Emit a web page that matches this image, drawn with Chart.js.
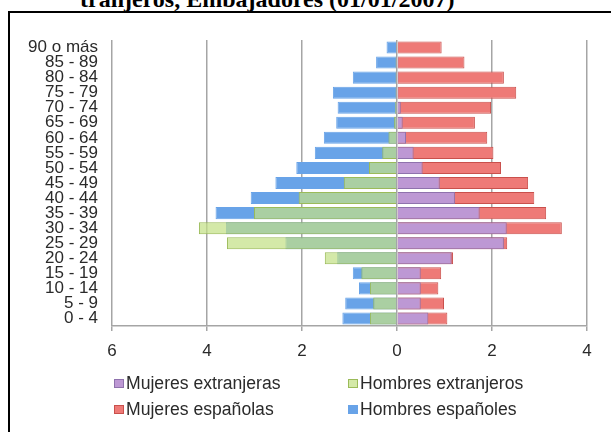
<!DOCTYPE html>
<html>
<head>
<meta charset="utf-8">
<title>Pirámide de población - Embajadores</title>
<style>
    body { margin: 0; width: 611px; height: 432px; overflow: hidden; position: relative; background: #fff;
           font-family: "Liberation Sans", Arial, sans-serif; }
    #titulo { position: absolute; left: 80px; top: -13px; white-space: nowrap; color: #000;
              font: bold 24px/24px "Liberation Serif", "Times New Roman", serif; }
    #marco { position: absolute; left: 8px; top: 11px; width: 700px; height: 500px; border: 2px solid #000; }
    #grafico { position: absolute; left: 0; top: 0; }
    .item { position: absolute; height: 20px; line-height: 20px; font-size: 17.6px; color: #2a2a2a; white-space: nowrap; }
    .caja { display: inline-block; width: 8px; height: 7px; margin-right: 2px; vertical-align: 1px; border: 1px solid; }
</style>
</head>
<body>
<div id="titulo">tranjeros, Embajadores (01/01/2007)</div>
<div id="marco"></div>
<canvas id="grafico" width="611" height="432"></canvas>
<div id="leyenda"></div>

<script src="https://cdn.jsdelivr.net/npm/chart.js"></script>
<script>
    // grupos de edad, de arriba abajo
    const edades = ['90 o más', '85 - 89', '80 - 84', '75 - 79', '70 - 74', '65 - 69', '60 - 64',
        '55 - 59', '50 - 54', '45 - 49', '40 - 44', '35 - 39', '30 - 34', '25 - 29', '20 - 24',
        '15 - 19', '10 - 14', '5 - 9', '0 - 4'];

    // porcentajes
    const mujeresExtranjeras = [0.02, 0.03, 0.03, 0.03, 0.08, 0.12, 0.19, 0.35, 0.54, 0.90,
        1.22, 1.74, 2.31, 2.25, 1.15, 0.50, 0.50, 0.50, 0.66];
    const hombresExtranjeros = [0.02, 0.03, 0.03, 0.03, 0.04, 0.06, 0.18, 0.31, 0.59, 1.12,
        2.07, 3.01, 4.17, 3.58, 1.52, 0.75, 0.57, 0.50, 0.57];
    const mujeresEspanolas = [0.94, 1.42, 2.25, 2.51, 1.98, 1.64, 1.90, 2.03, 2.19, 2.76,
        2.89, 3.14, 3.47, 2.32, 1.18, 0.93, 0.87, 0.99, 1.06];
    const hombresEspanoles = [0.22, 0.44, 0.93, 1.35, 1.25, 1.28, 1.54, 1.73, 2.12, 2.56,
        3.08, 3.82, 3.60, 2.35, 1.26, 0.93, 0.80, 1.09, 1.15];

    const ticksX = [-6, -4, -2, 0, 2, 4];

    const negativo = arr => arr.map(v => -v);

    // los extranjeros van primero, asi se pintan encima
    const series = [
        {label: 'Mujeres extranjeras', data: mujeresExtranjeras, fondo: '#bd98d4', borde: '#8f72ad'},
        {label: 'Hombres extranjeros', data: negativo(hombresExtranjeros), fondo: 'rgba(196,224,134,0.72)', borde: '#9bbb59'},
        {label: 'Mujeres españolas', data: mujeresEspanolas, fondo: '#ee7a77', borde: '#c9504c'},
        {label: 'Hombres españoles', data: negativo(hombresEspanoles), fondo: '#68a3e8', borde: '#68a3e8'},
    ];

    const chart = new Chart(document.getElementById('grafico'), {
        type: 'bar',
        data: {
            labels: edades,
            datasets: series.map(s => ({
                label: s.label,
                data: s.data,
                backgroundColor: s.fondo,
                borderColor: s.borde,
                borderWidth: 1,
                grouped: false,
                categoryPercentage: 1,
                barPercentage: 0.8,
            }))
        },
        options: {
            indexAxis: 'y',
            responsive: false,
            animation: false,
            layout: {padding: {left: 12, right: 24, top: 40, bottom: 66}},
            plugins: {legend: {display: false}, tooltip: {enabled: false}},
            scales: {
                x: {
                    min: ticksX[0],
                    max: ticksX[ticksX.length - 1],
                    afterBuildTicks: scale => { scale.ticks = ticksX.map(v => ({value: v})); },
                    ticks: {color: '#2a2a2a', font: {size: 17}, padding: 10, callback: v => Math.abs(v)},
                    grid: {color: '#a5a5a5', lineWidth: 1.5, tickLength: 5},
                    border: {color: '#a5a5a5', width: 1.5},
                    afterFit: scale => { scale.height = 40; }
                },
                y: {
                    ticks: {autoSkip: false, color: '#2a2a2a', font: {size: 17}, padding: 14},
                    grid: {display: false, drawTicks: false},
                    border: {display: false},
                    afterFit: scale => { scale.width = 100; }
                }
            }
        }
    });

    // leyenda en dos columnas, como en el original
    const posiciones = [[114, 373], [348, 373], [114, 399], [348, 399]];
    const leyenda = document.getElementById('leyenda');
    series.forEach((s, i) => {
        const div = document.createElement('div');
        div.className = 'item';
        div.style.left = posiciones[i][0] + 'px';
        div.style.top = posiciones[i][1] + 'px';
        div.innerHTML = '<span class="caja" style="background:' + s.fondo + ';border-color:' + s.borde + '"></span>' + s.label;
        leyenda.appendChild(div);
    });
</script>
</body>
</html>
